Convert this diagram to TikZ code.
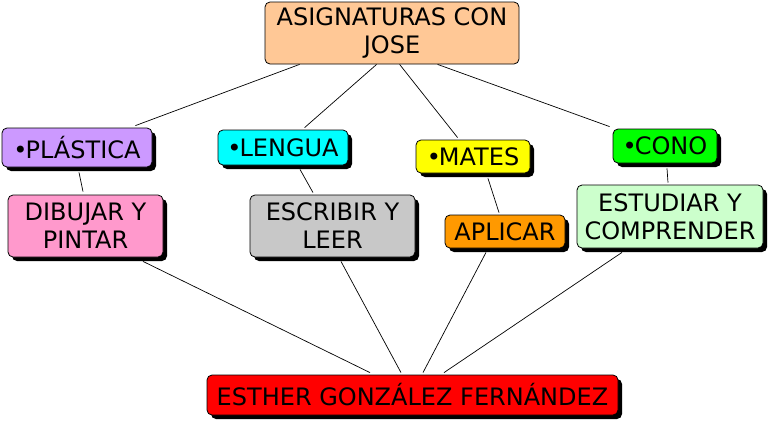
\documentclass[tikz,border=0pt]{standalone}
\usepackage{fontspec}
\setmainfont{DejaVu Sans}
\usetikzlibrary{shadows,calc}
\definecolor{cpeach}{HTML}{FFC896}
\definecolor{cpurple}{HTML}{CC99FF}
\definecolor{ccyan}{HTML}{00FFFF}
\definecolor{cyellow}{HTML}{FFFF00}
\definecolor{cgreen}{HTML}{00FF00}
\definecolor{cpink}{HTML}{FF99CC}
\definecolor{cgray}{HTML}{C8C8C8}
\definecolor{corange}{HTML}{FF9900}
\definecolor{clightgreen}{HTML}{CCFFCC}
\definecolor{cred}{HTML}{FF0000}
\tikzset{
  concept/.style={draw=black, line width=0.8pt, rounded corners=5pt, inner sep=0pt,
    align=center, text=black, font=\fontsize{24}{28}\selectfont},
  shad/.style={concept, drop shadow={shadow xshift=4pt, shadow yshift=-4pt, fill=black, opacity=1}},
  link/.style={draw=black, line width=0.7pt}
}
\begin{document}
\begin{tikzpicture}[x=1pt,y=-1pt]
\useasboundingbox (0,0) rectangle (769,421);
\node[concept, fill=cpeach, minimum width=254pt, minimum height=62pt] (top) at (392,33) {ASIGNATURAS CON\\JOSE};
\node[shad, fill=cpurple, minimum width=150pt, minimum height=39pt] (plastica) at (77,147.5) {•\kern-2ptPLÁSTICA};
\node[shad, fill=ccyan, minimum width=130pt, minimum height=35pt] (lengua) at (283,147.5) {•\kern-2ptLENGUA};
\node[shad, fill=cyellow, minimum width=114pt, minimum height=33pt] (mates) at (473,156.5) {•\kern-2ptMATES};
\node[shad, fill=cgreen, minimum width=104pt, minimum height=34pt] (cono) at (665,146) {•\kern-2ptCONO};
\node[shad, fill=cpink, minimum width=155pt, minimum height=62pt] (dibujar) at (85.5,226) {DIBUJAR Y\\PINTAR};
\node[shad, fill=cgray, minimum width=165pt, minimum height=62pt] (escribir) at (332.5,226) {ESCRIBIR Y\\LEER};
\node[shad, fill=corange, minimum width=120pt, minimum height=33pt] (aplicar) at (505,231.5) {APLICAR};
\node[shad, fill=clightgreen, minimum width=186pt, minimum height=63pt] (estudiar) at (670,216.5) {ESTUDIAR Y\\COMPRENDER};
\node[shad, fill=cred, minimum width=411pt, minimum height=40pt] (bottom) at (412.5,395) {ESTHER GONZÁLEZ FERNÁNDEZ};

\draw[link] ($(top.south west)+(35,0)$) -- ($(plastica.north east)+(-17,-2)$);
\draw[link] ($(top.south west)+(112,0)$) -- ($(lengua.north west)+(87,-2)$);
\draw[link] ($(top.south west)+(135,0)$) -- ($(mates.north west)+(42,-2)$);
\draw[link] ($(top.south west)+(173,0)$) -- ($(cono.north west)+(-3,-2)$);

\draw[link] ($(plastica.south)+(2,5)$) -- ($(dibujar.north)+(-2.5,-3)$);
\draw[link] ($(lengua.south)+(17,4)$) -- ($(escribir.north)+(-19.5,-2)$);
\draw[link] ($(mates.south)+(15,5)$) -- ($(aplicar.north)+(-6,-2)$);
\draw[link] ($(cono.south)+(2,5)$) -- ($(estudiar.north)+(-2,-2)$);

\draw[link] ($(dibujar.south)+(57.5,4)$) -- ($(bottom.north)+(-42.5,-2)$);
\draw[link] ($(escribir.south)+(8.5,4)$) -- ($(bottom.north)+(-11.5,-2)$);
\draw[link] ($(aplicar.south)+(-19,4)$) -- ($(bottom.north)+(10.5,-2)$);
\draw[link] ($(estudiar.south)+(-48,4)$) -- ($(bottom.north)+(31.5,-2)$);
\end{tikzpicture}
\end{document}
